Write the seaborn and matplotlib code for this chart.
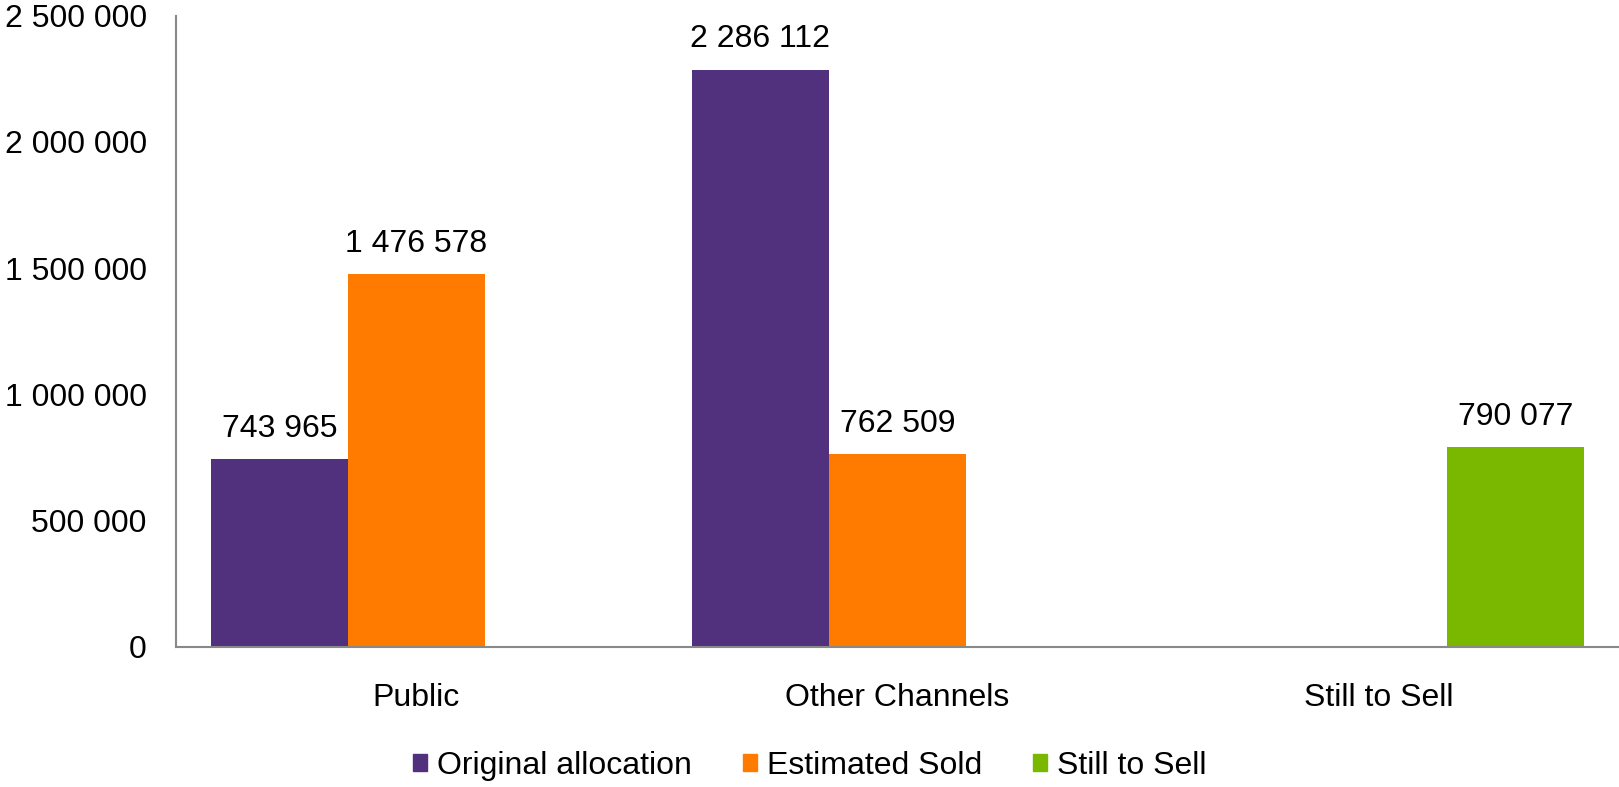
import pandas as pd
import numpy as np
import matplotlib
matplotlib.use("Agg")
import matplotlib.pyplot as plt
import seaborn as sns

categories = ["Public", "Other Channels", "Still to Sell"]
series = ["Original allocation", "Estimated Sold", "Still to Sell"]
original_allocation = [743965, 2286112, np.nan]
estimated_sold = [1476578, 762509, np.nan]
still_to_sell = [np.nan, np.nan, 790077]
colors = ["#51307D", "#FF7B00", "#7AB800"]

df = pd.DataFrame({
    "category": categories * 3,
    "series": [s for s in series for _ in categories],
    "value": original_allocation + estimated_sold + still_to_sell,
})

sns.set_style("white")
plt.rcParams["font.family"] = ["Liberation Sans", "DejaVu Sans"]
plt.rcParams["text.color"] = "black"
plt.rcParams["xtick.color"] = "black"
plt.rcParams["ytick.color"] = "black"

fig = plt.figure(figsize=(16.19, 7.87), dpi=100)
ax = fig.add_axes([0.1087, 0.178, 0.8913, 0.802])

sns.barplot(data=df, x="category", y="value", hue="series", order=categories,
            hue_order=series, palette=colors, width=0.855, errorbar=None,
            saturation=1, linewidth=0, ax=ax)

for c in ax.containers:
    labels = ["" if np.isnan(v) or v == 0 else f"{v:,.0f}".replace(",", " ") for v in c.datavalues]
    ax.bar_label(c, labels=labels, padding=11, fontsize=23, color="black")

ax.set_xlim(-0.5, 2.5)
ax.set_ylim(0, 2500000)
ax.set_yticks(np.arange(0, 2500001, 500000))
ax.set_yticklabels([f"{v:,.0f}".replace(",", " ") for v in np.arange(0, 2500001, 500000)])
ax.set_xlabel("")
ax.set_ylabel("")
ax.tick_params(axis="both", length=0, labelsize=23, colors="black")
ax.tick_params(axis="y", pad=21)
ax.tick_params(axis="x", pad=26)

for s in ["top", "right"]:
    ax.spines[s].set_visible(False)
for s in ["left", "bottom"]:
    ax.spines[s].set_color("#898989")
    ax.spines[s].set_linewidth(1.5)

ax.legend_.remove()
handles = [plt.Rectangle((0, 0), 1, 1, color=c) for c in colors]
fig.legend(handles, series, loc="center", bbox_to_anchor=(0.5, 0.027), ncol=3,
           frameon=False, fontsize=23, handlelength=0.45, handleheight=0.45,
           handletextpad=0.3, columnspacing=1.6, labelcolor="black")

plt.savefig("out.png", dpi=100)
